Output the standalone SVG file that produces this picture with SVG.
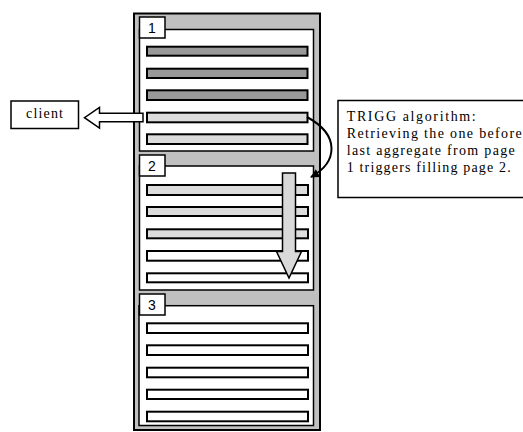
<svg xmlns="http://www.w3.org/2000/svg" width="523" height="432" viewBox="0 0 523 432">
  <style>
    .frame { fill: #c0c0c0; stroke: #000; stroke-width: 2; }
    .panel { fill: #fff; stroke: #000; stroke-width: 1.5; }
    .tab { fill: #fff; stroke: #000; stroke-width: 1.5; }
    .bar { stroke: #000; stroke-width: 2; }
    .dark { fill: #999999; }
    .light { fill: #dcdcdc; }
    .empty { fill: #fff; }
    .num { font-family: "Liberation Sans", Arial, sans-serif; font-size: 14px; fill: #000; }
    .lbl { font-family: "Liberation Serif", "Times New Roman", serif; font-size: 14px; fill: #000; }
    .box { fill: #fff; stroke: #000; stroke-width: 1.5; }
    .conn { fill: none; stroke: #000; stroke-width: 2; }
    .bigarrow { stroke: #000; stroke-width: 1.5; stroke-linejoin: miter; }
  </style>
  <defs>
    <marker id="head" viewBox="0 0 10 10" refX="9" refY="5" markerWidth="4.5" markerHeight="4.5" orient="auto" markerUnits="strokeWidth">
      <path d="M0,0 L10,5 L0,10 Z" fill="#000"/>
    </marker>
  </defs>

  <!-- outer storage frame -->
  <g id="storage">
    <rect class="frame" x="134" y="13.5" width="186" height="416.5"/>
  </g>

  <!-- page 1 -->
  <g id="page1">
    <rect class="panel" x="139.5" y="29.5" width="174" height="121.5"/>
    <rect class="tab" x="139.5" y="17" width="25.5" height="21"/>
    <text class="num" x="152" y="32.5" text-anchor="middle" font-family="Liberation Serif, serif">1</text>
    <rect class="bar dark" x="147" y="46.7" width="160.5" height="9"/>
    <rect class="bar dark" x="147" y="68.7" width="160.5" height="9.3"/>
    <rect class="bar dark" x="147" y="90.3" width="160.5" height="9.7"/>
    <rect class="bar light" x="147" y="112.7" width="160.5" height="9.6"/>
    <rect class="bar light" x="147" y="134.3" width="160.5" height="9.7"/>
  </g>

  <!-- page 2 -->
  <g id="page2">
    <rect class="panel" x="139.5" y="166" width="174" height="124"/>
    <rect class="tab" x="139.5" y="155" width="25.5" height="21"/>
    <text class="num" x="152" y="170.5" text-anchor="middle">2</text>
    <rect class="bar light" x="147" y="185" width="161" height="10"/>
    <rect class="bar light" x="147" y="207" width="161" height="9"/>
    <rect class="bar light" x="147" y="229.3" width="161" height="9"/>
    <rect class="bar empty" x="147" y="251" width="161" height="9.7"/>
    <rect class="bar empty" x="147" y="273.3" width="161" height="9"/>
  </g>

  <!-- page 3 -->
  <g id="page3">
    <rect class="panel" x="139" y="305.7" width="174.5" height="119.8"/>
    <rect class="tab" x="139.5" y="294" width="25.5" height="21"/>
    <text class="num" x="152" y="309.5" text-anchor="middle">3</text>
    <rect class="bar empty" x="147" y="323.3" width="161" height="9.7"/>
    <rect class="bar empty" x="147" y="345.3" width="161" height="9.7"/>
    <rect class="bar empty" x="147" y="367.7" width="161" height="9.6"/>
    <rect class="bar empty" x="147" y="389.7" width="161" height="9.3"/>
    <rect class="bar empty" x="147" y="411.7" width="161" height="9.6"/>
  </g>

  <!-- client -->
  <g id="client">
    <rect class="box" x="11" y="101" width="67.5" height="27.5"/>
    <text class="lbl" x="26" y="118" textLength="37" lengthAdjust="spacing">client</text>
  </g>

  <!-- annotation -->
  <g id="note">
    <rect class="box" x="338" y="100.5" width="190" height="97"/>
    <text class="lbl" x="346.7" y="121" textLength="129" lengthAdjust="spacing">TRIGG algorithm:</text>
    <text class="lbl" x="346.7" y="138" textLength="175" lengthAdjust="spacing">Retrieving the one before</text>
    <text class="lbl" x="346.7" y="155" textLength="168" lengthAdjust="spacing">last aggregate from page</text>
    <text class="lbl" x="346.7" y="172" textLength="164" lengthAdjust="spacing">1 triggers filling page 2.</text>
  </g>

  <!-- connectors -->
  <g id="connectors">
    <!-- aggregate handed to the client -->
    <path class="bigarrow" fill="#fff" d="M143,113.3 L99.5,113.3 L99.5,107.5 L84.5,117.7 L99.5,128 L99.5,121.7 L143,121.7 Z"/>
    <!-- trigger from page 1 to page 2 -->
    <path class="conn" d="M307,117 C340,135 338,162 311,177" marker-end="url(#head)"/>
    <!-- page 2 fill direction -->
    <path class="bigarrow" fill="#d9d9d9" d="M282.5,173 L295.5,173 L295.5,251.5 L301.5,251.5 L289,278 L276.5,251.5 L282.5,251.5 Z"/>
  </g>
</svg>
